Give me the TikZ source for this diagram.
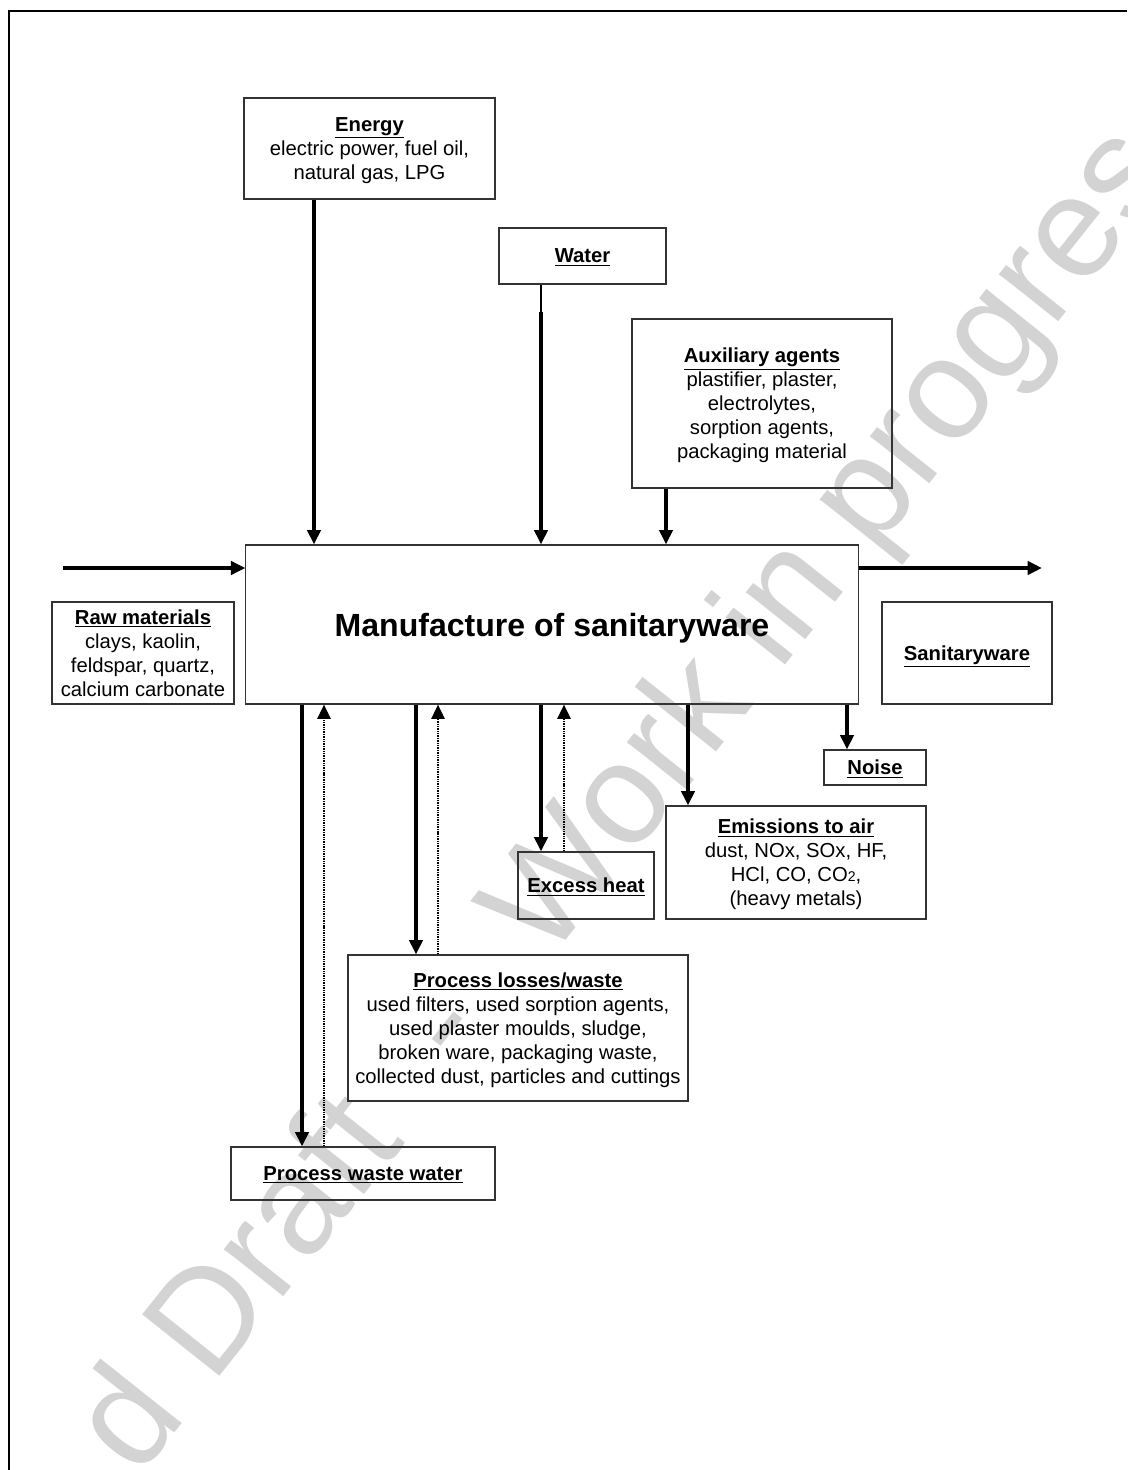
\documentclass[tikz,border=0pt]{standalone}
\usepackage{fontspec}
\setmainfont{Liberation Sans}
\usetikzlibrary{arrows.meta}
\usepackage{xcolor}
\definecolor{BoxLine}{HTML}{333333}
\definecolor{WatermarkGrey}{HTML}{D3D3D3}
\newcommand{\boxhead}[1]{\underline{\textbf{#1}}}
\tikzset{
    % Box styles - plain rectangles, no fill
    flowbox/.style={
        rectangle,
        draw=BoxLine,
        line width=0.8pt,
        inner sep=0pt,
        text depth=0pt,
        align=center,
        font=\fontsize{14.4}{17.1}\selectfont
    },
    mainbox/.style={
        flowbox,
        font=\bfseries\fontsize{22.8}{27}\selectfont
    },
    % Arrow styles - straight lines only
    arrow/.style={
        -{Triangle[length=0.36cm,width=0.33cm]},
        line width=2.6pt,
        draw=black
    },
    dottedarrow/.style={
        arrow,
        line width=1.6pt,
        dash pattern=on 1pt off 0.7pt
    },
    thinline/.style={
        line width=0.8pt,
        draw=black
    },
    pageframe/.style={
        line width=1.8pt,
        draw=black
    },
    watermark/.style={
        text=WatermarkGrey,
        inner sep=0pt,
        font=\fontsize{102}{120}\selectfont
    }
}

\begin{document}
\begin{tikzpicture}[x=0.025cm, y=-0.025cm]
    \useasboundingbox (0,0) rectangle (1127,1470);
    \clip (0,0) rectangle (1127,1470);

    % watermark behind everything
    \node[watermark, rotate=51.5, anchor=base west] (wm) at (138,1479)
        {d Draft\hspace{0.35em} - \hspace{0.35em}Work in progress};

    % page frame
    \coordinate (fbl) at (9,1470);
    \coordinate (ftl) at (9,11);
    \coordinate (ftr) at (1127,11);
    \draw[pageframe] (fbl) -- (ftl) -- (ftr);

    % inputs
    \node[flowbox, minimum width=6.275cm, minimum height=2.525cm] (energy) at (369.5,148.5)
        {\boxhead{Energy}\\electric power, fuel oil,\\natural gas, LPG};
    \node[flowbox, minimum width=4.175cm, minimum height=1.4cm] (water) at (582.5,256)
        {\boxhead{Water}};
    \node[flowbox, minimum width=6.5cm, minimum height=4.225cm] (auxagents) at (762,403.5)
        {\boxhead{Auxiliary agents}\\plastifier, plaster,\\electrolytes,\\sorption agents,\\packaging material};
    \node[flowbox, minimum width=4.55cm, minimum height=2.55cm] (rawmat) at (143,653)
        {\boxhead{Raw materials}\\clays, kaolin,\\feldspar, quartz,\\calcium carbonate};

    % process
    \node[mainbox, minimum width=15.3cm, minimum height=3.975cm] (main) at (552,624.5)
        {Manufacture of sanitaryware};

    % outputs
    \node[flowbox, minimum width=4.25cm, minimum height=2.55cm] (product) at (967,653)
        {\boxhead{Sanitaryware}};
    \node[flowbox, minimum width=2.55cm, minimum height=0.875cm] (noise) at (875,767.5)
        {\boxhead{Noise}};
    \node[flowbox, minimum width=6.5cm, minimum height=2.825cm] (airemis) at (796,862.5)
        {\boxhead{Emissions to air}\\dust, NOx, SOx, HF,\\HCl, CO, CO{\fontsize{10}{12}\selectfont 2},\\(heavy metals)};
    \node[flowbox, minimum width=3.4cm, minimum height=1.675cm] (heat) at (586,885.5)
        {\boxhead{Excess heat}};
    \node[flowbox, minimum width=8.5cm, minimum height=3.65cm] (losses) at (518,1028)
        {\boxhead{Process losses/waste}\\used filters, used sorption agents,\\used plaster moulds, sludge,\\broken ware, packaging waste,\\collected dust, particles and cuttings};
    \node[flowbox, minimum width=6.6cm, minimum height=1.325cm] (wastewater) at (363,1173.5)
        {\boxhead{Process waste water}};

    % arrows into the process
    \coordinate (rawin) at (63,568);
    \coordinate (prodout) at (1042,568);
    \coordinate (waterjoin) at (541,312);
    \draw[arrow] (energy.south -| 314,0) -- (main.north -| 314,0);
    \draw[thinline] (water.south -| waterjoin) -- (waterjoin);
    \draw[arrow] (waterjoin) -- (main.north -| waterjoin);
    \draw[arrow] (auxagents.south -| 666,0) -- (main.north -| 666,0);
    \draw[arrow] (rawin) -- (main.west |- rawin);
    \draw[arrow] (main.east |- prodout) -- (prodout);

    % arrows out of the process
    \draw[arrow] (main.south -| 302,0) -- (wastewater.north -| 302,0);
    \draw[dottedarrow] (wastewater.north -| 324,0) -- (main.south -| 324,0);
    \draw[arrow] (main.south -| 416,0) -- (losses.north -| 416,0);
    \draw[dottedarrow] (losses.north -| 438,0) -- (main.south -| 438,0);
    \draw[arrow] (main.south -| 541,0) -- (heat.north -| 541,0);
    \draw[dottedarrow] (heat.north -| 564,0) -- (main.south -| 564,0);
    \draw[arrow] (main.south -| 688,0) -- (airemis.north -| 688,0);
    \draw[arrow] (main.south -| 847,0) -- (noise.north -| 847,0);
\end{tikzpicture}
\end{document}
